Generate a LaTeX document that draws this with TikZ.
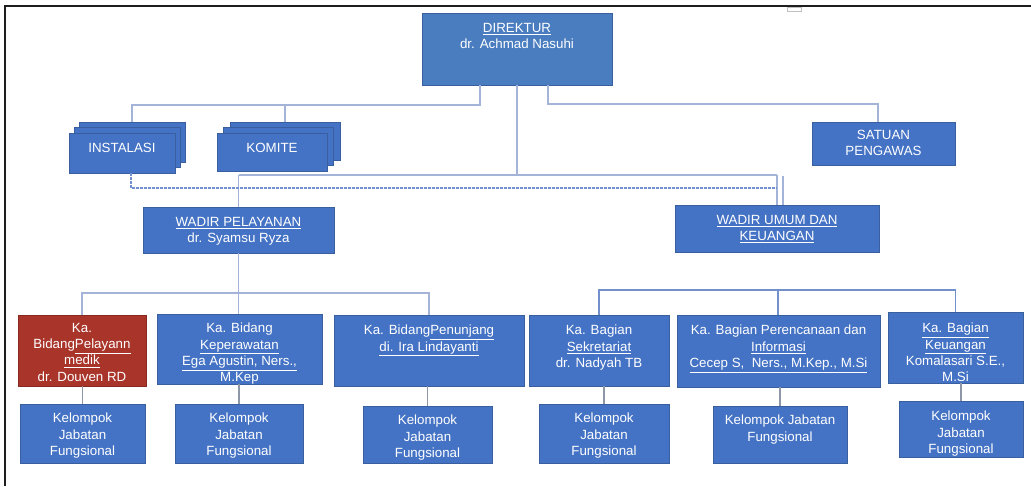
\documentclass[tikz,border=0pt]{standalone}
\usepackage{fontspec}
\setmainfont{Liberation Sans}
\usetikzlibrary{calc}

\definecolor{boxblue}{HTML}{4472C4}
\definecolor{dirblue}{HTML}{4A7DC0}
\definecolor{boxred}{HTML}{A8342A}
\definecolor{boxedge}{HTML}{3A5F9F}
\definecolor{lineA}{HTML}{A3B4D8}
\definecolor{lineB}{HTML}{7290CB}
\definecolor{lineC}{HTML}{8E97A8}
\definecolor{framecol}{HTML}{1E1E1E}

\tikzset{
  box/.style={rectangle, fill=boxblue, draw=boxedge, line width=0.4pt, inner sep=0pt},
  dirbox/.style={box, fill=dirblue},
  redbox/.style={box, fill=boxred, draw=boxred!80!black},
  boxtext/.style={text=white, align=center, inner sep=0pt, font=\fontsize{10}{12.3}\selectfont},
  topline/.style={draw=lineA, line width=1pt},
  busline/.style={draw=lineB, line width=1.3pt},
  stemline/.style={draw=lineC, line width=1.1pt},
  dashline/.style={draw=lineB, line width=1pt, dash pattern=on 2pt off 1pt},
}

% \obox{name}{style}{x1}{y1}{x2}{y2}{text offset from top}{text}
\newcommand\obox[8]{%
  \node[#2, minimum width={(#5-#3)*0.75pt}, minimum height={(#6-#4)*0.75pt},
        label={[boxtext, anchor=north, yshift={-#7*0.75pt}]north:{#8}}]
        (#1) at ({(#3+#5)/2},{(#4+#6)/2}) {};}
% plain box without text (back layers of stacked boxes)
\newcommand\pbox[6]{%
  \node[#2, minimum width={(#5-#3)*0.75pt}, minimum height={(#6-#4)*0.75pt}]
        (#1) at ({(#3+#5)/2},{(#4+#6)/2}) {};}

\begin{document}
\begin{tikzpicture}[x=0.75pt, y=-0.75pt]
\useasboundingbox (0,0) rectangle (1031,486);

% page frame
\draw[framecol, line width=1.6pt] (5,486) -- (5,6) -- (1031,6);
\draw[black!25, line width=0.6pt] (787,7) rectangle (801,11);

% top level
\obox{dir}{dirbox}{422}{13}{612}{85}{10}{\underline{DIREKTUR}\\dr. Achmad Nasuhi}

% stacked boxes
\pbox{instB}{box}{79}{122}{185}{162}
\pbox{instM}{box}{74}{127.5}{180}{167.5}
\obox{instA}{box}{69}{133}{175}{173}{10}{INSTALASI}
\pbox{komB}{box}{230}{122}{340}{160}
\pbox{komM}{box}{223.5}{127.5}{333.5}{165.5}
\obox{komA}{box}{217}{133}{327}{171}{10}{KOMITE}

\obox{sat}{box}{812}{122}{955}{165}{8}{SATUAN\\PENGAWAS}

% deputy directors
\obox{wp}{box}{143}{207}{334}{253}{10}{\underline{WADIR PELAYANAN}\\dr. Syamsu Ryza}
\obox{wu}{box}{675}{205}{879}{252}{10}{\underline{WADIR UMUM DAN}\\\underline{KEUANGAN}}

% heads of divisions
\obox{b31}{redbox}{18}{315}{146}{386}{8}{Ka.\\Bidang\underline{Pelayann}\\\underline{medik}\\dr. Douven RD}
\obox{b32}{box}{157}{314}{322}{384}{9}{Ka. Bidang\\\underline{Keperawatan}\\\underline{Ega Agustin, Ners.,}\\\underline{M.Kep}}
\obox{b33}{box}{334}{315}{524}{386}{10}{Ka. Bidang\underline{Penunjang}\\\underline{di. Ira Lindayanti}}
\obox{b41}{box}{529}{315}{669}{386}{10}{Ka. Bagian\\\underline{Sekretariat}\\dr. Nadyah TB}
\obox{b42}{box}{677}{315}{880}{387}{10}{Ka. Bagian Perencanaan dan\\\underline{Informasi}\\\underline{Cecep S,\ \ Ners., M.Kep., M.Si}}
\obox{b43}{box}{888}{312}{1023}{383}{11}{\underline{Ka. Bagian}\\\underline{Keuangan}\\Komalasari S.E.,\\M.Si}

% functional groups
\obox{k1}{box}{20}{404}{145}{463}{9}{Kelompok\\Jabatan\\Fungsional}
\obox{k2}{box}{175}{404}{303}{463}{9}{Kelompok\\Jabatan\\Fungsional}
\obox{k3}{box}{363}{406}{492}{463}{9}{Kelompok\\Jabatan\\Fungsional}
\obox{k4}{box}{539}{404}{669}{463}{9}{Kelompok\\Jabatan\\Fungsional}
\obox{k5}{box}{713}{406}{847}{463}{9}{Kelompok Jabatan\\Fungsional}
\obox{k6}{box}{899}{401}{1023}{457}{10}{Kelompok\\Jabatan\\Fungsional}

% junction points
\coordinate (ja) at (480,105);
\coordinate (jb) at (548,104);
\coordinate (jbr) at (878,104);
\coordinate (jm) at (517,175);
\coordinate (jd) at (131,188);
\coordinate (jw) at (783,176);
\coordinate (jl) at (238,293);
\coordinate (jr) at (778,290);

% director to committees and installations
\draw[topline] (dir.south -| ja) -- (ja) -| (instB.north);
\draw[topline] (ja -| komB.north) -- (komB.north);
% director to supervisory unit
\draw[topline] (dir.south -| jb) -- (jb) -- (jbr) -- (jbr |- sat.north);
% director to deputies
\draw[topline] (dir.south) -- (jm);
\draw[topline] (jm -| wp.north) -- (jm -| wu.north);
\draw[topline] (jm -| wp.north) -- (wp.north);
\draw[topline] (jm -| wu.north) -- (wu.north);
\draw[topline] (jw) -- (jw |- wu.north);
% coordination line from installations
\draw[dashline] (instA.south -| jd) -- (jd) -- (jd -| wu.north);

% service deputy to divisions
\draw[topline, line width=1.3pt] (b31.north) |- (jl) -| (b33.north);
\draw[topline, line width=1.3pt] (wp.south) -- (wp.south |- b32.north);
% general deputy branch
\draw[busline] (b41.north) |- (jr) -| (b43.north);
\draw[busline] (jr) -- (jr |- b42.north);

% divisions to functional groups
\foreach \a/\b in {b31/k1, b32/k2, b33/k3, b41/k4, b42/k5, b43/k6}
  \draw[stemline] (\b.north |- \a.south) -- (\b.north);
\end{tikzpicture}
\end{document}
